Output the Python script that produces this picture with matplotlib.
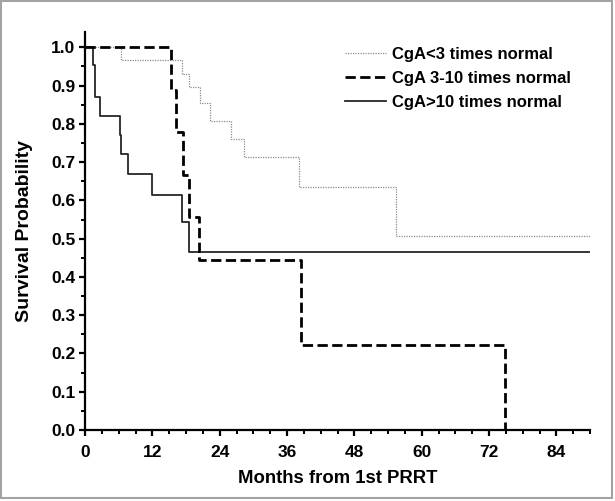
import matplotlib
matplotlib.use("Agg")
import matplotlib.pyplot as plt
from matplotlib.ticker import MultipleLocator, FormatStrFormatter
from matplotlib.patches import Rectangle

# Kaplan-Meier step data (months, survival)
low_t = [0, 6.4, 17.3, 18.5, 20.5, 22.3, 26.0, 28.3, 38.1, 55.5, 90]
low_s = [1.0, 0.966, 0.931, 0.896, 0.855, 0.808, 0.761, 0.714, 0.635, 0.507, 0.507]

mid_t = [0, 15.4, 16.2, 17.4, 18.6, 20.4, 38.5, 74.9]
mid_s = [1.0, 0.889, 0.778, 0.667, 0.556, 0.444, 0.222, 0.0]

high_t = [0, 1.5, 1.8, 2.6, 6.2, 6.5, 7.6, 12.0, 17.3, 18.5, 90]
high_s = [1.0, 0.955, 0.87, 0.82, 0.77, 0.72, 0.67, 0.614, 0.543, 0.466, 0.466]

labels = ["CgA<3 times normal", "CgA 3-10 times normal", "CgA>10 times normal"]

plt.rcParams.update({
    "font.family": ["Liberation Sans", "DejaVu Sans"],
    "font.weight": "bold",
    "axes.labelweight": "bold",
})

fig = plt.figure(figsize=(6.15, 5.01), dpi=100)
ax = fig.add_axes([85 / 615, 71 / 501, 505 / 615, 398 / 501])

ax.step(low_t, low_s, where="post", color="#8c8c8c", lw=0.9,
        linestyle=(0, (1, 1)), label=labels[0], zorder=2)
ax.step(mid_t, mid_s, where="post", color="black", lw=2.0,
        linestyle=(0, (3.7, 1.6)), label=labels[1], zorder=4)
ax.step(high_t, high_s, where="post", color="#262626", lw=1.3,
        label=labels[2], zorder=3)

ax.set_xlim(0, 90)
ax.set_ylim(0, 1.04)
ax.xaxis.set_major_locator(MultipleLocator(12))
ax.xaxis.set_minor_locator(MultipleLocator(3))
ax.yaxis.set_major_locator(MultipleLocator(0.1))
ax.yaxis.set_minor_locator(MultipleLocator(0.05))
ax.yaxis.set_major_formatter(FormatStrFormatter("%.1f"))

for s in ["top", "right"]:
    ax.spines[s].set_visible(False)
for s in ["left", "bottom"]:
    ax.spines[s].set_linewidth(1.6)

ax.tick_params(which="major", direction="out", length=4.5, width=1.6,
               labelsize=12.5)
ax.tick_params(which="minor", direction="out", length=3, width=1.4)
ax.tick_params(axis="y", which="major", pad=2.5)
ax.tick_params(axis="x", which="major", pad=6.5)

ax.set_xlabel("Months from 1st PRRT", fontsize=13.3, labelpad=7)
ax.set_ylabel("Survival Probability", fontsize=14, labelpad=13)

ax.legend(loc="upper left", bbox_to_anchor=(0.515, 0.962), frameon=False,
          fontsize=12, handlelength=2.45, handletextpad=0.35,
          labelspacing=0.53, borderpad=0, borderaxespad=0)

# light gray frame around the whole image
fig.patches.append(Rectangle((1 / 615, 3 / 501), 611 / 615, 497 / 501,
                             transform=fig.transFigure, fill=False,
                             edgecolor="#a3a3a3", lw=1.5))

fig.savefig("out.png", dpi=100)
